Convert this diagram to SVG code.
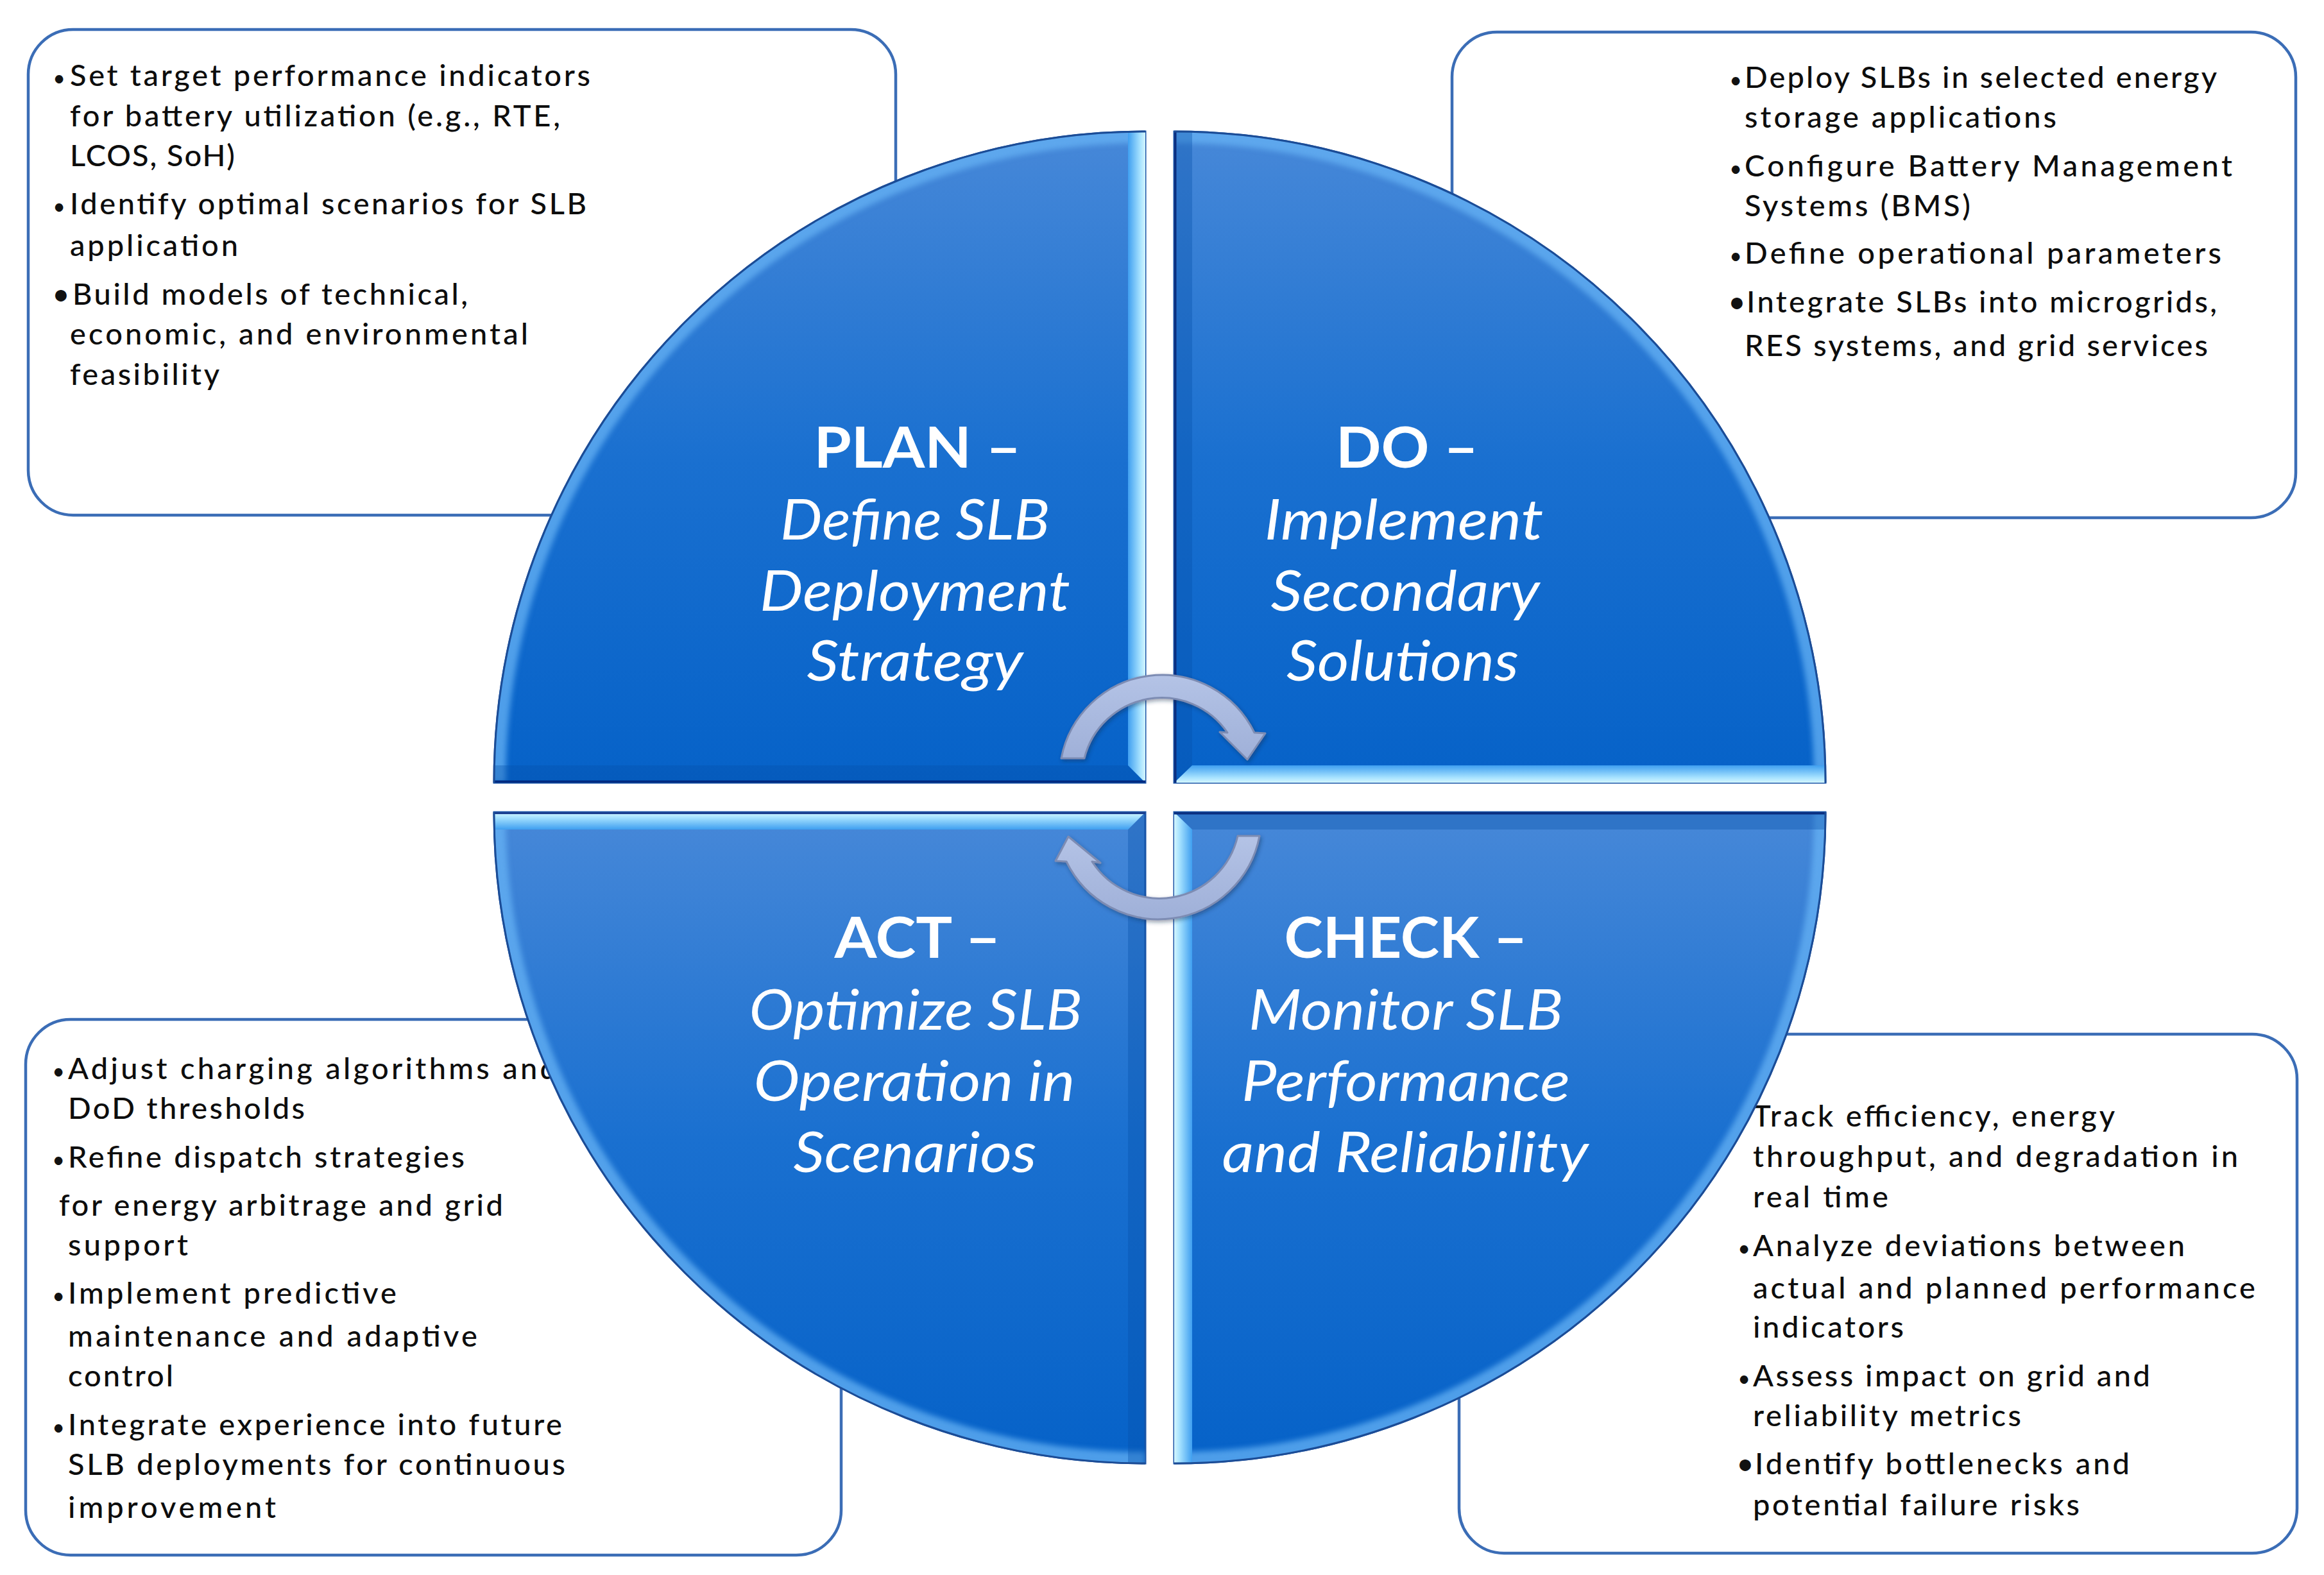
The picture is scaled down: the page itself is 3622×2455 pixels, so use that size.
<svg xmlns="http://www.w3.org/2000/svg" width="3622" height="2455" viewBox="0 0 3622 2455">
<style>
.box{fill:#ffffff;stroke:#3b6db6;stroke-width:4.5}
.bt{font-family:Lato,"Liberation Sans",sans-serif;font-size:47px;font-weight:500;fill:#0d0d0d}
.bs{font-family:Lato,"Liberation Sans",sans-serif;font-size:34px;fill:#111111;text-anchor:middle}
.bb{font-family:Lato,"Liberation Sans",sans-serif;font-size:48px;fill:#111111;text-anchor:middle}
.lab{font-family:Lato,"Liberation Sans",sans-serif;font-size:88px;fill:#ffffff;text-anchor:middle}
.hd{font-weight:700}
.it{font-style:italic}
.quad{fill:url(#qfill);stroke:#1d56a8;stroke-width:3}
.rim{fill:none;stroke:#66b2f4;stroke-width:36;opacity:0.75}
.edge{fill:none;stroke:#1b4c96;stroke-width:3}
.dark{fill:#0750aa;opacity:0.35}
.arrow{fill:url(#afill);stroke:#7d8cb3;stroke-width:3;stroke-linejoin:round}
</style>
<defs>
<linearGradient id="qfill" x1="0" y1="0" x2="0" y2="1">
<stop offset="0" stop-color="#4788d8"/>
<stop offset="0.5" stop-color="#1a70d0"/>
<stop offset="1" stop-color="#0662c8"/>
</linearGradient>
<linearGradient id="gH" x1="0" y1="0" x2="1" y2="0">
<stop offset="0" stop-color="#3f9ff0"/>
<stop offset="0.7" stop-color="#a6e2ff"/>
<stop offset="1" stop-color="#d4f6ff"/>
</linearGradient>
<linearGradient id="gH2" x1="0" y1="0" x2="1" y2="0">
<stop offset="0" stop-color="#d4f6ff"/>
<stop offset="0.3" stop-color="#a6e2ff"/>
<stop offset="1" stop-color="#3f9ff0"/>
</linearGradient>
<linearGradient id="gV" x1="0" y1="0" x2="0" y2="1">
<stop offset="0" stop-color="#3f9ff0"/>
<stop offset="0.7" stop-color="#a6e2ff"/>
<stop offset="1" stop-color="#d4f6ff"/>
</linearGradient>
<linearGradient id="gV2" x1="0" y1="0" x2="0" y2="1">
<stop offset="0" stop-color="#d4f6ff"/>
<stop offset="0.3" stop-color="#a6e2ff"/>
<stop offset="1" stop-color="#3f9ff0"/>
</linearGradient>
<linearGradient id="afill" x1="0" y1="0" x2="0" y2="1">
<stop offset="0" stop-color="#b4c3e6"/>
<stop offset="1" stop-color="#9fb0d8"/>
</linearGradient>
<filter id="soft" x="-5%" y="-5%" width="110%" height="110%">
<feGaussianBlur stdDeviation="4"/>
</filter>
<filter id="ash" x="-20%" y="-20%" width="140%" height="140%">
<feDropShadow dx="2" dy="3" stdDeviation="3" flood-color="#1a2a50" flood-opacity="0.45"/>
</filter>
<path id="pTL" d="M1785 1220 L770 1220 A1015 1015 0 0 1 1785 205 Z"/>
<path id="pTR" d="M1830 1220 L1830 205 A1015 1015 0 0 1 2845 1220 Z"/>
<path id="pBR" d="M1830 1266 L2845 1266 A1015 1015 0 0 1 1830 2281 Z"/>
<path id="pBL" d="M1785 1266 L1785 2281 A1015 1015 0 0 1 770 1266 Z"/>
<clipPath id="cTL"><use href="#pTL"/></clipPath>
<clipPath id="cTR"><use href="#pTR"/></clipPath>
<clipPath id="cBR"><use href="#pBR"/></clipPath>
<clipPath id="cBL"><use href="#pBL"/></clipPath>
</defs>

<rect width="3622" height="2455" fill="#ffffff"/>

<g id="box-plan">
<rect class="box" x="44" y="46" width="1352" height="757" rx="70"/>
<text class="bs" x="92" y="134">•</text>
<text class="bt" x="109" y="134" textLength="811" lengthAdjust="spacing">Set target performance indicators</text>
<text class="bt" x="109" y="197" textLength="764" lengthAdjust="spacing">for battery utilization (e.g., RTE,</text>
<text class="bt" x="109" y="259" textLength="257" lengthAdjust="spacing">LCOS, SoH)</text>
<text class="bs" x="92" y="334">•</text>
<text class="bt" x="109" y="334" textLength="805" lengthAdjust="spacing">Identify optimal scenarios for SLB</text>
<text class="bt" x="109" y="399" textLength="262" lengthAdjust="spacing">application</text>
<text class="bb" x="95" y="475">•</text>
<text class="bt" x="113" y="475" textLength="616" lengthAdjust="spacing">Build models of technical,</text>
<text class="bt" x="109" y="537" textLength="714" lengthAdjust="spacing">economic, and environmental</text>
<text class="bt" x="109" y="600" textLength="233" lengthAdjust="spacing">feasibility</text>
</g>

<g id="box-do">
<rect class="box" x="2263" y="50" width="1315" height="757" rx="70"/>
<text class="bs" x="2705" y="137">•</text>
<text class="bt" x="2719" y="137" textLength="736" lengthAdjust="spacing">Deploy SLBs in selected energy</text>
<text class="bt" x="2719" y="199" textLength="486" lengthAdjust="spacing">storage applications</text>
<text class="bs" x="2705" y="275">•</text>
<text class="bt" x="2719" y="275" textLength="760" lengthAdjust="spacing">Configure Battery Management</text>
<text class="bt" x="2719" y="337" textLength="352" lengthAdjust="spacing">Systems (BMS)</text>
<text class="bs" x="2705" y="411">•</text>
<text class="bt" x="2719" y="411" textLength="743" lengthAdjust="spacing">Define operational parameters</text>
<text class="bb" x="2707" y="487">•</text>
<text class="bt" x="2722" y="487" textLength="733" lengthAdjust="spacing">Integrate SLBs into microgrids,</text>
<text class="bt" x="2719" y="555" textLength="722" lengthAdjust="spacing">RES systems, and grid services</text>
</g>

<g id="box-act">
<rect class="box" x="40" y="1589" width="1271" height="835" rx="70"/>
<text class="bs" x="91" y="1682">•</text>
<text class="bt" x="106" y="1682" textLength="762" lengthAdjust="spacing">Adjust charging algorithms and</text>
<text class="bt" x="106" y="1744" textLength="369" lengthAdjust="spacing">DoD thresholds</text>
<text class="bs" x="91" y="1820">•</text>
<text class="bt" x="106" y="1820" textLength="618" lengthAdjust="spacing">Refine dispatch strategies</text>
<text class="bt" x="92" y="1895" textLength="692" lengthAdjust="spacing">for energy arbitrage and grid</text>
<text class="bt" x="106" y="1957" textLength="187" lengthAdjust="spacing">support</text>
<text class="bs" x="91" y="2032">•</text>
<text class="bt" x="106" y="2032" textLength="512" lengthAdjust="spacing">Implement predictive</text>
<text class="bt" x="106" y="2099" textLength="638" lengthAdjust="spacing">maintenance and adaptive</text>
<text class="bt" x="106" y="2161" textLength="164" lengthAdjust="spacing">control</text>
<text class="bs" x="91" y="2237">•</text>
<text class="bt" x="106" y="2237" textLength="770" lengthAdjust="spacing">Integrate experience into future</text>
<text class="bt" x="106" y="2299" textLength="775" lengthAdjust="spacing">SLB deployments for continuous</text>
<text class="bt" x="106" y="2366" textLength="324" lengthAdjust="spacing">improvement</text>
</g>

<g id="box-check">
<rect class="box" x="2274" y="1612" width="1306" height="809" rx="70"/>
<text class="bt" x="2732" y="1756" textLength="564" lengthAdjust="spacing">Track efficiency, energy</text>
<text class="bt" x="2732" y="1819" textLength="756" lengthAdjust="spacing">throughput, and degradation in</text>
<text class="bt" x="2732" y="1882" textLength="211" lengthAdjust="spacing">real time</text>
<text class="bs" x="2718" y="1958">•</text>
<text class="bt" x="2732" y="1958" textLength="673" lengthAdjust="spacing">Analyze deviations between</text>
<text class="bt" x="2732" y="2024" textLength="783" lengthAdjust="spacing">actual and planned performance</text>
<text class="bt" x="2732" y="2085" textLength="235" lengthAdjust="spacing">indicators</text>
<text class="bs" x="2718" y="2161">•</text>
<text class="bt" x="2732" y="2161" textLength="619" lengthAdjust="spacing">Assess impact on grid and</text>
<text class="bt" x="2732" y="2223" textLength="418" lengthAdjust="spacing">reliability metrics</text>
<text class="bb" x="2720" y="2298">•</text>
<text class="bt" x="2735" y="2298" textLength="584" lengthAdjust="spacing">Identify bottlenecks and</text>
<text class="bt" x="2732" y="2362" textLength="509" lengthAdjust="spacing">potential failure risks</text>
</g>

<g id="quad-plan">
<use href="#pTL" class="quad"/>
<g clip-path="url(#cTL)">
<path class="rim" filter="url(#soft)" d="M770 1220 A1015 1015 0 0 1 1785 205"/>
<polygon class="dark" points="765,1193 1758,1193 1785,1220 765,1220"/>
<polygon fill="url(#gH)" points="1758,200 1785,200 1785,1220 1758,1193"/>
<line x1="765" y1="1218.5" x2="1785" y2="1218.5" stroke="#002a80" stroke-width="4"/>
</g>
<path class="edge" d="M770 1220 A1015 1015 0 0 1 1785 205"/>
<text class="lab hd" x="1430" y="729" textLength="323" lengthAdjust="spacingAndGlyphs">PLAN –</text>
<text class="lab it" x="1426" y="841" textLength="420" lengthAdjust="spacingAndGlyphs">Define SLB</text>
<text class="lab it" x="1426" y="952" textLength="484" lengthAdjust="spacingAndGlyphs">Deployment</text>
<text class="lab it" x="1426" y="1061" textLength="337" lengthAdjust="spacingAndGlyphs">Strategy</text>
</g>

<g id="quad-do">
<use href="#pTR" class="quad"/>
<g clip-path="url(#cTR)">
<path class="rim" filter="url(#soft)" d="M1830 205 A1015 1015 0 0 1 2845 1220"/>
<polygon class="dark" points="1830,200 1858,200 1858,1193 1830,1220"/>
<polygon fill="url(#gV)" points="1830,1220 1858,1193 2850,1193 2850,1220"/>
<line x1="1831.5" y1="200" x2="1831.5" y2="1220" stroke="#0a2f80" stroke-width="4"/>
</g>
<path class="edge" d="M1830 205 A1015 1015 0 0 1 2845 1220"/>
<text class="lab hd" x="2193" y="729" textLength="222" lengthAdjust="spacingAndGlyphs">DO –</text>
<text class="lab it" x="2188" y="841" textLength="435" lengthAdjust="spacingAndGlyphs">Implement</text>
<text class="lab it" x="2190" y="952" textLength="419" lengthAdjust="spacingAndGlyphs">Secondary</text>
<text class="lab it" x="2186" y="1061" textLength="362" lengthAdjust="spacingAndGlyphs">Solutions</text>
</g>

<g id="quad-check">
<use href="#pBR" class="quad"/>
<g clip-path="url(#cBR)">
<path class="rim" filter="url(#soft)" d="M2845 1266 A1015 1015 0 0 1 1830 2281"/>
<polygon class="dark" points="1858,1293 1830,1266 2850,1266 2850,1293"/>
<polygon fill="url(#gH2)" points="1830,1266 1858,1293 1858,2290 1830,2290"/>
<line x1="1830" y1="1267.5" x2="2850" y2="1267.5" stroke="#0a2f80" stroke-width="4"/>
</g>
<path class="edge" d="M2845 1266 A1015 1015 0 0 1 1830 2281"/>
<text class="lab hd" x="2191" y="1493" textLength="379" lengthAdjust="spacingAndGlyphs">CHECK –</text>
<text class="lab it" x="2191" y="1605" textLength="490" lengthAdjust="spacingAndGlyphs">Monitor SLB</text>
<text class="lab it" x="2191" y="1716" textLength="512" lengthAdjust="spacingAndGlyphs">Performance</text>
<text class="lab it" x="2190" y="1827" textLength="571" lengthAdjust="spacingAndGlyphs">and Reliability</text>
</g>

<g id="quad-act">
<use href="#pBL" class="quad"/>
<g clip-path="url(#cBL)">
<path class="rim" filter="url(#soft)" d="M1785 2281 A1015 1015 0 0 1 770 1266"/>
<polygon class="dark" points="1758,1293 1785,1266 1785,2290 1758,2290" opacity="0.2"/>
<polygon fill="url(#gV2)" points="765,1266 1785,1266 1758,1293 765,1293"/>
<line x1="765" y1="1267.5" x2="1785" y2="1267.5" stroke="#1a3f8f" stroke-width="3"/>
</g>
<path class="edge" d="M1785 2281 A1015 1015 0 0 1 770 1266"/>
<text class="lab hd" x="1430" y="1493" textLength="259" lengthAdjust="spacingAndGlyphs">ACT –</text>
<text class="lab it" x="1427" y="1605" textLength="519" lengthAdjust="spacingAndGlyphs">Optimize SLB</text>
<text class="lab it" x="1425" y="1716" textLength="501" lengthAdjust="spacingAndGlyphs">Operation in</text>
<text class="lab it" x="1426" y="1827" textLength="379" lengthAdjust="spacingAndGlyphs">Scenarios</text>
</g>

<g id="connectors" filter="url(#ash)">
<path id="arrow-plan-do" class="arrow" d="M1654 1182 A160 160 0 0 1 1955 1142 L1972 1143 L1944 1184 L1901 1141 L1913 1142 A124 124 0 0 0 1690 1182 Z"/>
<path id="arrow-check-act" class="arrow" d="M1963 1303 A160 160 0 0 1 1662 1343 L1645 1342 L1665 1304 L1715 1345 L1702 1343 A125 125 0 0 0 1929 1303 Z"/>
</g>
</svg>
